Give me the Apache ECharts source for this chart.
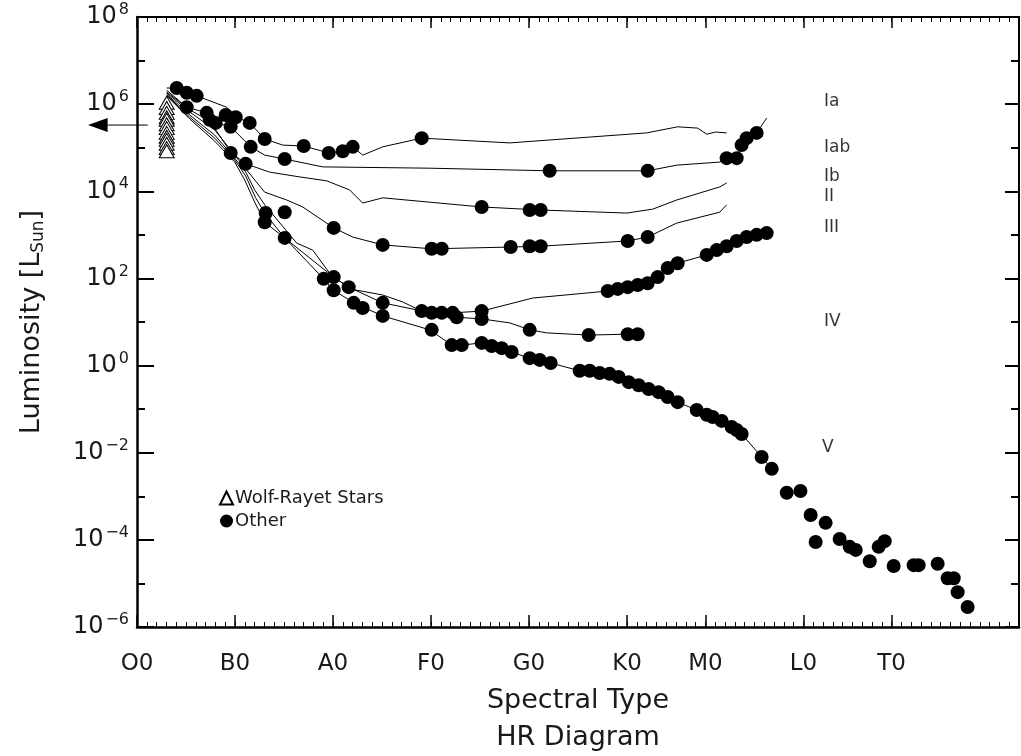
<!DOCTYPE html>
<html>
<head>
<meta charset="utf-8">
<script src="https://cdn.jsdelivr.net/npm/echarts@6/dist/echarts.min.js"></script>
<style>
  html, body { margin: 0; padding: 0; background: #fff; }
  #chart { width: 1021px; height: 756px; }
</style>
</head>
<body>
<div id="chart"></div>
<script>
// Spectral type axis: O0 = 0, one unit per subclass (K has 8 subclasses, L has 9)
const spectralTicks = [0, 10, 20, 30, 40, 50, 58, 68, 77];
const spectralLabels = ['O0', 'B0', 'A0', 'F0', 'G0', 'K0', 'M0', 'L0', 'T0'];

// Luminosity-class tracks: [spectral type, log10(L / Lsun)]
const trackIa = [[3.03,6.37],[4.05,6.37],[5.07,6.26],[6.09,6.19],[9.15,5.93],[10.17,5.70],[11.50,5.57],[13.03,5.20],[14.87,5.06],[17.01,5.04],[19.56,4.88],[20.99,4.92],[22.01,5.02],[23.03,4.83],[25.07,5.02],[29.05,5.22],[38.03,5.11],[52.01,5.34],[55.17,5.48],[57.21,5.45],[58.13,5.31],[59.05,5.36],[60.17,5.34]];
const trackIab = [[3.03,6.32],[5.07,5.93],[7.11,5.80],[8.03,5.57],[9.56,5.48],[11.60,5.02],[13.03,4.83],[15.07,4.74],[18.95,4.56],[29.87,4.53],[42.11,4.47],[52.11,4.47],[55.07,4.60],[59.46,4.67],[60.17,4.76],[61.19,4.76],[61.70,5.06],[62.21,5.22],[63.23,5.34],[64.25,5.68]];
const trackIb = [[3.03,6.28],[5.38,5.87],[7.42,5.61],[9.56,4.90],[11.09,4.63],[13.54,4.44],[16.60,4.33],[19.36,4.24],[21.70,4.03],[23.03,3.73],[25.07,3.85],[29.87,3.75],[35.17,3.64],[41.19,3.57],[49.97,3.50],[52.62,3.59],[55.07,3.80],[59.46,4.10],[60.17,4.19]];
const trackII = [[3.03,6.26],[5.38,5.82],[7.93,5.41],[9.97,4.83],[12.01,4.26],[13.03,3.98],[15.28,3.80],[16.91,3.64],[20.07,3.16],[22.01,2.95],[25.07,2.77],[30.07,2.68],[38.13,2.72],[41.19,2.74],[50.07,2.86],[52.11,2.95],[55.07,3.27],[59.46,3.52],[60.17,3.69]];
const trackIII = [[3.03,6.23],[5.38,5.75],[7.93,5.29],[9.97,4.76],[11.09,4.44],[12.01,4.03],[13.03,3.69],[16.30,2.81],[17.93,2.65],[19.66,2.12],[21.70,1.76],[25.07,1.62],[27.11,1.46],[29.05,1.25],[32.21,1.21],[35.17,1.25],[40.38,1.55],[48.03,1.71],[50.07,1.80],[52.11,1.89],[53.13,2.03],[54.15,2.24],[55.17,2.35],[58.13,2.54],[59.15,2.65],[60.17,2.74],[61.19,2.86],[62.21,2.95],[63.23,3.00],[64.25,3.04]];
const trackIV = [[3.03,6.21],[5.38,5.70],[7.93,5.22],[9.97,4.72],[11.09,4.35],[12.11,3.85],[13.03,3.50],[15.07,2.93],[17.62,2.47],[20.07,2.03],[21.60,1.80],[25.07,1.44],[29.15,1.25],[32.62,1.11],[35.17,1.07],[38.03,0.98],[40.07,0.82],[41.81,0.75],[46.09,0.70],[50.07,0.72],[51.09,0.72]];
const trackV = [[3.03,6.19],[5.38,5.66],[7.93,5.15],[9.97,4.67],[10.99,4.26],[12.01,3.75],[13.03,3.29],[15.07,2.93],[19.05,1.99],[20.07,1.73],[22.11,1.44],[25.07,1.14],[29.87,0.82],[32.11,0.47],[33.13,0.47],[35.17,0.52],[36.19,0.45],[37.21,0.40],[38.23,0.31],[40.07,0.17],[41.09,0.13],[42.21,0.06],[45.17,-0.12],[46.19,-0.12],[47.21,-0.17],[48.23,-0.19],[49.15,-0.26],[50.17,-0.38],[51.19,-0.45],[52.21,-0.54],[53.23,-0.61],[54.15,-0.72],[55.17,-0.84],[57.11,-1.02],[58.13,-1.13],[58.74,-1.18],[59.66,-1.27],[60.68,-1.41],[61.19,-1.48],[61.70,-1.57],[63.74,-2.10],[64.77,-2.37]];

// Individual stars: [spectral type, log10(L / Lsun)]
const otherStars = [
  [4.05,6.37],[5.07,6.26],[6.09,6.19],[5.07,5.93],[7.11,5.80],[7.42,5.64],[8.03,5.57],[9.05,5.75],[10.07,5.70],[9.56,5.48],
  [11.50,5.57],[13.03,5.20],[11.60,5.02],[9.56,4.88],[11.09,4.63],[15.07,4.74],[17.01,5.04],[19.56,4.88],[20.99,4.92],[22.01,5.02],[29.05,5.22],
  [42.11,4.47],[52.11,4.47],[60.17,4.76],[61.19,4.76],[61.70,5.06],[62.21,5.22],[63.23,5.34],
  [35.17,3.64],[40.07,3.57],[41.19,3.57],
  [20.07,3.16],[25.07,2.77],[30.07,2.68],[31.09,2.68],[38.13,2.72],[40.07,2.74],[41.19,2.74],[50.07,2.86],[52.11,2.95],
  [13.13,3.50],[13.03,3.29],[15.07,3.52],[15.07,2.93],
  [19.05,1.99],[20.07,2.03],[20.07,1.73],[21.60,1.80],[22.11,1.44],[23.03,1.32],[25.07,1.44],[25.07,1.14],
  [29.05,1.25],[30.07,1.21],[31.09,1.21],[32.21,1.21],[32.62,1.11],[35.17,1.25],[35.17,1.07],
  [30.07,0.82],[32.11,0.47],[33.13,0.47],[35.17,0.52],[36.19,0.45],[37.21,0.40],[38.23,0.31],[40.07,0.17],[41.09,0.13],[42.21,0.06],
  [48.03,1.71],[49.05,1.76],[50.07,1.80],[51.09,1.85],[52.11,1.89],[53.13,2.03],[54.15,2.24],[55.17,2.35],
  [58.13,2.54],[59.15,2.65],[60.17,2.74],[61.19,2.86],[62.21,2.95],[63.23,3.00],[64.25,3.04],
  [40.07,0.82],[46.09,0.70],[50.07,0.72],[51.09,0.72],
  [45.17,-0.12],[46.19,-0.12],[47.21,-0.17],[48.23,-0.19],[49.15,-0.26],[50.17,-0.38],[51.19,-0.45],[52.21,-0.54],[53.23,-0.61],
  [54.15,-0.72],[55.17,-0.84],[57.11,-1.02],[58.13,-1.13],[58.74,-1.18],[59.66,-1.27],[60.68,-1.41],[61.19,-1.48],[61.70,-1.57],
  [63.74,-2.10],[64.77,-2.37],
  [66.30,-2.92],[67.70,-2.88],[68.74,-3.43],[70.27,-3.61],[69.25,-4.05],[71.70,-3.98],[72.72,-4.16],[73.34,-4.23],[74.77,-4.49],
  [75.68,-4.16],[76.30,-4.03],[77.21,-4.60],[79.25,-4.58],[79.76,-4.58],[81.70,-4.55],[82.72,-4.88],[83.34,-4.88],[83.74,-5.20],[84.76,-5.54]
];

// Wolf-Rayet stars, all plotted at early O type
const wolfRayetType = 3.03;
const wolfRayetLogL = [6.03, 5.91, 5.80, 5.70, 5.64, 5.54, 5.45, 5.34, 5.25, 5.18, 5.09, 4.99, 4.92];

// Luminosity-class names
const classNames = ['Ia', 'Iab', 'Ib', 'II', 'III', 'IV', 'V'];
</script>
<script>
const FONT = 'DejaVu Sans';
const INK = '#1a1a1a';

// where the class names are written, in data units
const classLabelAnchors = {
  'Ia': [70.1, 6.07], 'Iab': [70.1, 5.0], 'Ib': [70.1, 4.33], 'II': [70.1, 3.87],
  'III': [70.1, 3.16], 'IV': [70.1, 1.02], 'V': [69.9, -1.89]
};
// left-pointing arrow: level, line start, arrow base, arrow tip (spectral units)
const arrowLevel = 5.52;
const arrowSpan = { start: 1.1, base: -3.0, tip: -5.0 };

const tracks = [trackIa, trackIab, trackIb, trackII, trackIII, trackIV, trackV];

function expText(e) {
  return e < 0 ? '\u2212' + (-e) : String(e);
}

const baseAxisX = { type: 'value', min: 0, max: 90, gridIndex: 0, splitLine: { show: false } };
const baseAxisY = { type: 'value', min: -6, max: 8, gridIndex: 0, splitLine: { show: false } };

function lineOpt(show, width) {
  return { show: show, onZero: false, lineStyle: { color: '#000', width: width } };
}

const option = {
  animation: false,
  backgroundColor: '#fff',
  textStyle: { fontFamily: FONT },
  grid: { left: 137, right: 2, top: 17, bottom: 129, containLabel: false, outerBoundsMode: 'none' },
  legend: {
    data: [
      { name: 'Wolf-Rayet Stars', icon: 'triangle' },
      { name: 'Other', icon: 'circle' }
    ],
    orient: 'vertical',
    left: 219,
    top: 489,
    itemWidth: 13,
    itemHeight: 13,
    itemGap: 5,
    padding: 0,
    selectedMode: false,
    textStyle: { fontFamily: FONT, fontSize: 18, color: INK, padding: [0, 0, 0, -3] }
  },
  xAxis: [
    Object.assign({}, baseAxisX, {
      position: 'bottom', interval: 1,
      axisLine: lineOpt(true, 2.5),
      axisTick: { show: true, inside: true, length: 5, lineStyle: { color: '#000', width: 1 } },
      axisLabel: { show: false },
      name: 'Spectral Type\nHR Diagram',
      nameLocation: 'middle',
      nameGap: 55,
      nameTextStyle: { fontFamily: FONT, fontSize: 27, color: INK, lineHeight: 37 }
    }),
    Object.assign({}, baseAxisX, {
      position: 'bottom',
      axisLine: lineOpt(false, 1),
      axisTick: { show: true, inside: true, length: 12, customValues: spectralTicks, lineStyle: { color: '#000', width: 1.5 } },
      axisLabel: {
        show: true, customValues: spectralTicks, margin: 26,
        fontFamily: FONT, fontSize: 23, color: INK,
        formatter: v => spectralLabels[spectralTicks.indexOf(Math.round(v))] || ''
      }
    }),
    Object.assign({}, baseAxisX, {
      position: 'top', interval: 1,
      axisLine: lineOpt(true, 2),
      axisTick: { show: true, inside: true, length: 5, lineStyle: { color: '#000', width: 1 } },
      axisLabel: { show: false }
    }),
    Object.assign({}, baseAxisX, {
      position: 'top',
      axisLine: lineOpt(false, 1),
      axisTick: { show: true, inside: true, length: 11, customValues: spectralTicks, lineStyle: { color: '#000', width: 1.5 } },
      axisLabel: { show: false }
    })
  ],
  yAxis: [
    Object.assign({}, baseAxisY, {
      position: 'left', interval: 1,
      axisLine: lineOpt(true, 2.5),
      axisTick: { show: true, inside: true, length: 8, lineStyle: { color: '#000', width: 2 } },
      axisLabel: { show: false },
      name: '{n|Luminosity [L}{s|Sun}{n|]}',
      nameLocation: 'middle',
      nameRotate: 90,
      nameGap: 90,
      nameTextStyle: {
        rich: {
          n: { fontFamily: FONT, fontSize: 27, color: INK },
          s: { fontFamily: FONT, fontSize: 17, color: INK, padding: [13, 0, 0, 0] }
        }
      }
    }),
    Object.assign({}, baseAxisY, {
      position: 'left', interval: 2,
      axisLine: lineOpt(false, 1),
      axisTick: { show: true, inside: true, length: 17, lineStyle: { color: '#000', width: 2 } },
      axisLabel: {
        show: true, margin: 8,
        formatter: v => '{b|10}{e|' + expText(v) + '}',
        rich: {
          b: { fontFamily: FONT, fontSize: 24, color: INK },
          e: { fontFamily: FONT, fontSize: 16, color: INK, verticalAlign: 'bottom', padding: [0, 0, 14, 2] }
        }
      }
    }),
    Object.assign({}, baseAxisY, {
      position: 'right', interval: 1,
      axisLine: lineOpt(true, 2),
      axisTick: { show: true, inside: true, length: 8, lineStyle: { color: '#000', width: 2 } },
      axisLabel: { show: false }
    }),
    Object.assign({}, baseAxisY, {
      position: 'right', interval: 2,
      axisLine: lineOpt(false, 1),
      axisTick: { show: true, inside: true, length: 14, lineStyle: { color: '#000', width: 2 } },
      axisLabel: { show: false }
    })
  ],
  series: []
};

// class tracks
tracks.forEach((t, i) => {
  option.series.push({
    name: 'track ' + classNames[i],
    type: 'line',
    data: t,
    symbol: 'none',
    silent: true,
    z: 2,
    lineStyle: { color: '#000', width: 1 }
  });
});

option.series.push({
  name: 'Other',
  type: 'scatter',
  data: otherStars,
  symbol: 'circle',
  symbolSize: 14,
  z: 3,
  itemStyle: { color: '#000', opacity: 1 }
});

option.series.push({
  name: 'Wolf-Rayet Stars',
  type: 'scatter',
  data: wolfRayetLogL.map(l => [wolfRayetType, l]),
  symbol: 'triangle',
  symbolSize: [15, 13],
  z: 4,
  itemStyle: { color: '#fff', borderColor: '#000', borderWidth: 1, opacity: 1 }
});

option.series.push({
  name: 'class names',
  type: 'scatter',
  symbolSize: 0,
  silent: true,
  z: 5,
  data: classNames.map(n => ({ name: n, value: classLabelAnchors[n] })),
  label: {
    show: true, position: 'right', distance: 0,
    formatter: '{b}', fontFamily: FONT, fontSize: 17, color: '#000'
  }
});

const chart = echarts.init(document.getElementById('chart'), null, { renderer: 'canvas' });
chart.setOption(option);

// arrow placed through the axis scales (it runs past the left edge of the grid)
const toPx = p => chart.convertToPixel({ xAxisIndex: 0, yAxisIndex: 0 }, p);
const pStart = toPx([arrowSpan.start, arrowLevel]);
const pBase = toPx([arrowSpan.base, arrowLevel]);
const pTip = toPx([arrowSpan.tip, arrowLevel]);
const half = 7;
chart.setOption({
  graphic: [
    { type: 'line', silent: true, z: 10,
      shape: { x1: pStart[0], y1: pStart[1], x2: pBase[0], y2: pBase[1] },
      style: { stroke: '#000', lineWidth: 1 } },
    { type: 'polygon', silent: true, z: 10,
      shape: { points: [[pTip[0], pTip[1]], [pBase[0], pBase[1] - half], [pBase[0], pBase[1] + half]] },
      style: { fill: '#000' } }
  ]
});
</script>
</body>
</html>
